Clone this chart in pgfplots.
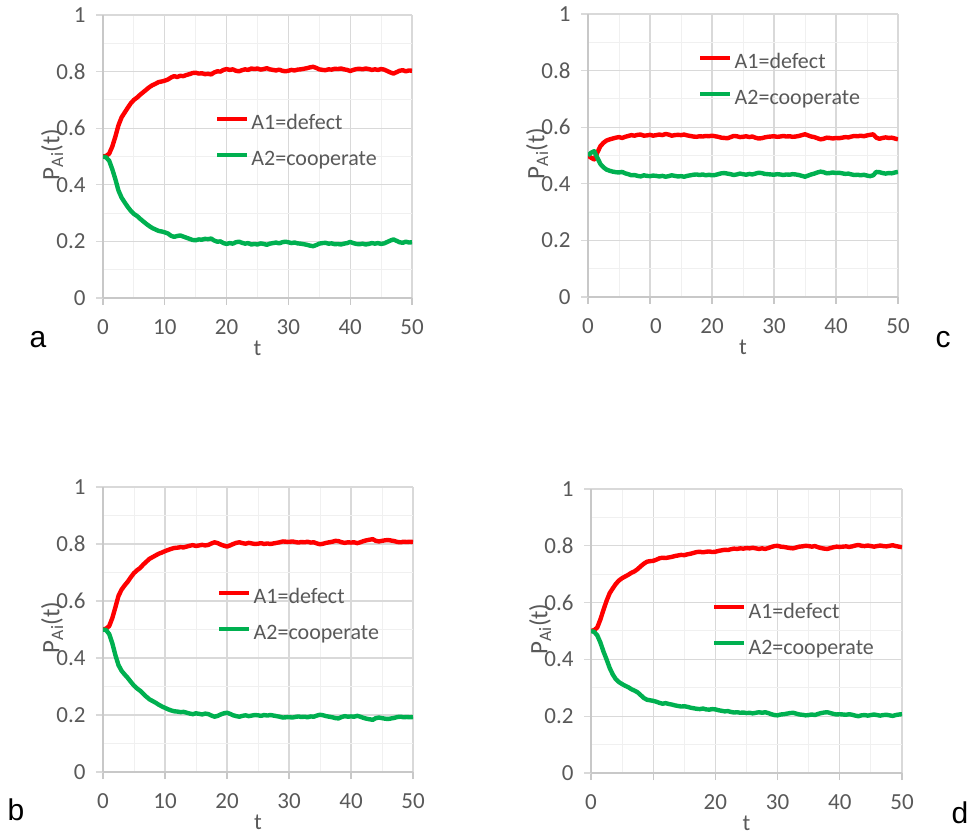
\documentclass[border=0pt]{standalone}
\usepackage{fontspec}
\setmainfont{Carlito}
\newfontfamily\arialf{Liberation Sans}
\usepackage{pgfplots}
\usepackage{pgfplotstable}
\pgfplotsset{compat=1.18}
\definecolor{tickgray}{HTML}{595959}
\definecolor{gridmaj}{HTML}{D9D9D9}
\definecolor{gridmin}{HTML}{F0F0F0}
\definecolor{axgray}{HTML}{C8C8C8}
\definecolor{pred}{HTML}{FF0000}
\definecolor{pgreen}{HTML}{00B050}

\pgfplotstableread{
t r g
0 0.500 0.500
0.5 0.502 0.497
1 0.510 0.485
1.5 0.535 0.455
2 0.570 0.420
2.5 0.610 0.380
3 0.638 0.355
3.5 0.655 0.338
4 0.672 0.322
4.5 0.688 0.308
5 0.700 0.297
5.5 0.708 0.290
6 0.718 0.280
6.5 0.727 0.271
7 0.736 0.262
7.5 0.745 0.254
8 0.752 0.247
8.5 0.757 0.242
9 0.763 0.237
9.5 0.765 0.235
10 0.768 0.232
10.5 0.772 0.228
11 0.779 0.220
11.5 0.784 0.216
12 0.781 0.219
12.5 0.785 0.221
13 0.784 0.217
13.5 0.788 0.213
14 0.791 0.209
14.5 0.795 0.205
15 0.796 0.204
15.5 0.793 0.207
16 0.794 0.206
16.5 0.791 0.209
17 0.792 0.208
17.5 0.790 0.210
18 0.797 0.203
18.5 0.801 0.199
19 0.800 0.200
19.5 0.806 0.194
20 0.809 0.191
20.5 0.806 0.194
21 0.808 0.192
21.5 0.803 0.197
22 0.801 0.199
22.5 0.805 0.195
23 0.808 0.192
23.5 0.806 0.194
24 0.811 0.189
24.5 0.809 0.191
25 0.811 0.189
25.5 0.807 0.193
26 0.809 0.191
26.5 0.812 0.188
27 0.808 0.192
27.5 0.806 0.194
28 0.804 0.196
28.5 0.807 0.193
29 0.803 0.197
29.5 0.801 0.199
30 0.803 0.197
30.5 0.806 0.194
31 0.804 0.196
31.5 0.807 0.193
32 0.808 0.192
32.5 0.810 0.190
33 0.812 0.188
33.5 0.815 0.185
34 0.817 0.183
34.5 0.813 0.187
35 0.808 0.192
35.5 0.806 0.194
36 0.805 0.195
36.5 0.808 0.192
37 0.807 0.193
37.5 0.810 0.190
38 0.809 0.191
38.5 0.811 0.189
39 0.808 0.192
39.5 0.806 0.194
40 0.802 0.198
40.5 0.806 0.194
41 0.809 0.191
41.5 0.810 0.190
42 0.808 0.192
42.5 0.811 0.189
43 0.809 0.191
43.5 0.806 0.194
44 0.808 0.192
44.5 0.806 0.194
45 0.809 0.191
45.5 0.807 0.193
46 0.802 0.198
46.5 0.797 0.203
47 0.793 0.207
47.5 0.798 0.202
48 0.803 0.197
48.5 0.805 0.195
49 0.801 0.199
49.5 0.804 0.196
50 0.803 0.197
}\dataA

\pgfplotstableread{
t r g
0 0.500 0.500
0.5 0.503 0.498
1 0.512 0.484
1.5 0.540 0.452
2 0.578 0.410
2.5 0.618 0.375
3 0.640 0.355
3.5 0.655 0.342
4 0.668 0.330
4.5 0.684 0.316
5 0.698 0.303
5.5 0.708 0.293
6 0.716 0.285
6.5 0.728 0.274
7 0.738 0.264
7.5 0.748 0.255
8 0.754 0.249
8.5 0.760 0.243
9 0.766 0.236
9.5 0.770 0.230
10 0.775 0.225
10.5 0.779 0.220
11 0.783 0.216
11.5 0.786 0.213
12 0.787 0.212
12.5 0.789 0.210
13 0.788 0.211
13.5 0.791 0.208
14 0.794 0.205
14.5 0.796 0.203
15 0.793 0.206
15.5 0.795 0.204
16 0.797 0.202
16.5 0.795 0.205
17 0.797 0.203
17.5 0.802 0.198
18 0.806 0.194
18.5 0.803 0.197
19 0.798 0.202
19.5 0.794 0.206
20 0.791 0.208
20.5 0.795 0.204
21 0.800 0.199
21.5 0.804 0.196
22 0.806 0.194
22.5 0.803 0.197
23 0.801 0.199
23.5 0.804 0.196
24 0.802 0.198
24.5 0.800 0.200
25 0.801 0.199
25.5 0.803 0.197
26 0.800 0.200
26.5 0.802 0.198
27 0.800 0.200
27.5 0.802 0.198
28 0.804 0.196
28.5 0.806 0.194
29 0.809 0.191
29.5 0.808 0.192
30 0.807 0.193
30.5 0.809 0.191
31 0.807 0.193
31.5 0.805 0.195
32 0.807 0.193
32.5 0.806 0.194
33 0.808 0.192
33.5 0.805 0.195
34 0.806 0.194
34.5 0.802 0.198
35 0.799 0.201
35.5 0.801 0.199
36 0.804 0.196
36.5 0.806 0.194
37 0.808 0.192
37.5 0.811 0.189
38 0.810 0.188
38.5 0.806 0.193
39 0.804 0.196
39.5 0.806 0.194
40 0.805 0.195
40.5 0.806 0.194
41 0.803 0.197
41.5 0.806 0.194
42 0.810 0.190
42.5 0.813 0.187
43 0.815 0.185
43.5 0.817 0.183
44 0.811 0.189
44.5 0.809 0.191
45 0.811 0.189
45.5 0.813 0.187
46 0.814 0.186
46.5 0.812 0.188
47 0.810 0.190
47.5 0.807 0.193
48 0.806 0.194
48.5 0.808 0.192
49 0.807 0.193
49.5 0.808 0.192
50 0.807 0.193
}\dataB

\pgfplotstableread{
t r g
0 0.500 0.500
0.5 0.492 0.510
1 0.486 0.515
1.5 0.510 0.492
2 0.533 0.470
2.5 0.545 0.458
3 0.553 0.450
3.5 0.557 0.446
4 0.560 0.443
4.5 0.563 0.441
5 0.565 0.440
5.5 0.562 0.442
6 0.566 0.437
6.5 0.569 0.434
7 0.572 0.430
7.5 0.570 0.431
8 0.573 0.428
8.5 0.574 0.426
9 0.570 0.430
9.5 0.571 0.428
10 0.573 0.427
10.5 0.570 0.429
11 0.572 0.428
11.5 0.574 0.426
12 0.572 0.428
12.5 0.576 0.425
13 0.574 0.427
13.5 0.570 0.430
14 0.572 0.428
14.5 0.573 0.426
15 0.572 0.427
15.5 0.574 0.425
16 0.571 0.428
16.5 0.569 0.430
17 0.567 0.432
17.5 0.566 0.433
18 0.568 0.431
18.5 0.567 0.433
19 0.569 0.430
19.5 0.568 0.432
20 0.570 0.430
20.5 0.568 0.431
21 0.566 0.434
21.5 0.563 0.437
22 0.562 0.438
22.5 0.561 0.436
23 0.565 0.434
23.5 0.569 0.431
24 0.568 0.433
24.5 0.565 0.436
25 0.566 0.434
25.5 0.568 0.432
26 0.565 0.435
26.5 0.567 0.433
27 0.563 0.436
27.5 0.560 0.439
28 0.561 0.438
28.5 0.564 0.435
29 0.566 0.434
29.5 0.567 0.433
30 0.568 0.432
30.5 0.566 0.434
31 0.567 0.433
31.5 0.569 0.431
32 0.567 0.433
32.5 0.568 0.432
33 0.566 0.434
33.5 0.567 0.433
34 0.569 0.431
34.5 0.572 0.428
35 0.575 0.425
35.5 0.571 0.429
36 0.567 0.433
36.5 0.565 0.436
37 0.561 0.440
37.5 0.557 0.443
38 0.559 0.441
38.5 0.563 0.437
39 0.562 0.438
39.5 0.560 0.440
40 0.562 0.438
40.5 0.561 0.439
41 0.563 0.437
41.5 0.565 0.435
42 0.564 0.436
42.5 0.567 0.433
43 0.569 0.431
43.5 0.568 0.432
44 0.570 0.430
44.5 0.568 0.432
45 0.571 0.429
45.5 0.573 0.427
46 0.575 0.430
46.5 0.563 0.442
47 0.559 0.441
47.5 0.562 0.438
48 0.564 0.436
48.5 0.562 0.438
49 0.563 0.437
49.5 0.560 0.440
50 0.557 0.442
}\dataC

\pgfplotstableread{
t r g
0 0.500 0.500
0.5 0.503 0.497
1 0.512 0.485
1.5 0.540 0.460
2 0.574 0.428
2.5 0.606 0.400
3 0.633 0.370
3.5 0.650 0.347
4 0.666 0.330
4.5 0.678 0.320
5 0.686 0.313
5.5 0.692 0.307
6 0.698 0.302
6.5 0.705 0.295
7 0.710 0.290
7.5 0.718 0.284
8 0.728 0.274
8.5 0.737 0.264
9 0.744 0.258
9.5 0.746 0.256
10 0.747 0.254
10.5 0.751 0.251
11 0.756 0.247
11.5 0.758 0.244
12 0.757 0.246
12.5 0.759 0.243
13 0.761 0.241
13.5 0.764 0.238
14 0.766 0.236
14.5 0.768 0.234
15 0.767 0.235
15.5 0.770 0.233
16 0.772 0.230
16.5 0.775 0.228
17 0.778 0.226
17.5 0.779 0.225
18 0.777 0.227
18.5 0.779 0.224
19 0.780 0.223
19.5 0.778 0.225
20 0.779 0.224
20.5 0.782 0.221
21 0.784 0.219
21.5 0.786 0.217
22 0.785 0.218
22.5 0.788 0.215
23 0.790 0.213
23.5 0.789 0.214
24 0.791 0.212
24.5 0.790 0.213
25 0.792 0.211
25.5 0.791 0.212
26 0.793 0.210
26.5 0.791 0.212
27 0.789 0.214
27.5 0.791 0.212
28 0.789 0.214
28.5 0.792 0.211
29 0.796 0.207
29.5 0.799 0.204
30 0.800 0.203
30.5 0.797 0.206
31 0.796 0.207
31.5 0.794 0.209
32 0.792 0.211
32.5 0.791 0.212
33 0.794 0.209
33.5 0.797 0.206
34 0.798 0.205
34.5 0.800 0.203
35 0.799 0.204
35.5 0.797 0.206
36 0.799 0.204
36.5 0.795 0.208
37 0.792 0.211
37.5 0.790 0.213
38 0.789 0.214
38.5 0.792 0.211
39 0.795 0.208
39.5 0.797 0.206
40 0.796 0.207
40.5 0.797 0.206
41 0.798 0.205
41.5 0.796 0.207
42 0.798 0.205
42.5 0.801 0.202
43 0.803 0.200
43.5 0.800 0.203
44 0.799 0.204
44.5 0.801 0.202
45 0.799 0.204
45.5 0.797 0.206
46 0.799 0.204
46.5 0.801 0.202
47 0.799 0.204
47.5 0.798 0.205
48 0.800 0.203
48.5 0.802 0.201
49 0.799 0.204
49.5 0.797 0.206
50 0.795 0.207
}\dataD

\pgfplotsset{
  panel/.style={
    scale only axis,
    xmin=0, xmax=50, ymin=0, ymax=1,
    xtick={0,10,20,30,40,50},
    ytick={0,0.2,0.4,0.6,0.8,1},
    yticklabels={0,0.2,0.4,0.6,0.8,1},
    minor xtick={5,15,25,35,45},
    minor ytick={0.1,0.3,0.5,0.7,0.9},
    grid=both,
    major grid style={color=gridmaj, line width=1.3pt},
    minor grid style={color=gridmin, line width=1pt},
    axis x line*=bottom, axis y line*=left,
    axis line style={-, color=axgray, line width=1.6pt},
    tick align=outside,
    major tick length=7pt,
    minor tick length=0pt,
    xtick style={color=axgray, line width=1.3pt},
    ytick style={color=gridmaj, line width=1.3pt},
    tick label style={font=\fontsize{23}{23}\selectfont, text=tickgray},
    xticklabel style={yshift=-11pt},
    yticklabel style={xshift=-7pt},
    xlabel={t},
    ylabel={P\textsubscript{Ai}(t)},
    every axis x label/.style={font=\fontsize{23}{23}\selectfont, text=tickgray, at={(axis description cs:0.5,0)}, anchor=center, yshift=-50pt},
    every axis y label/.style={font=\fontsize{25}{25}\selectfont, text=tickgray, at={(axis description cs:0,0.5)}, anchor=center, xshift=-51pt, yshift=2pt, rotate=90},
    legend style={draw=none, fill=none, anchor=west, inner sep=0pt,
      font=\fontsize{22}{22}\selectfont, text=tickgray,
      row sep=15pt, column sep=2pt,
      nodes={inner sep=0pt, text height=16pt, text depth=5pt}},
    legend cell align=left,
    legend image code/.code={\draw[#1] (0pt,5.5pt) -- (30pt,5.5pt);},
    every axis plot/.append style={line width=4.4pt, line join=round},
  }
}

\begin{document}
\begin{tikzpicture}
\useasboundingbox (0pt,0pt) rectangle (967pt,833pt);

% panel a
\begin{axis}[panel, at={(103pt,535pt)}, anchor=south west, width=309pt, height=283pt,
  xticklabels={0,10,20,30,40,50},
  legend style={at={(0.362,0.550)}}]
\addplot[pred] table[x=t,y=r]{\dataA};
\addlegendentry{A1=defect}
\addplot[pgreen] table[x=t,y=g]{\dataA};
\addlegendentry{A2=cooperate}
\end{axis}

% panel c
\begin{axis}[panel, at={(588pt,536pt)}, anchor=south west, width=310pt, height=283pt,
  xticklabels={0,\phantom{1}0,20,30,40,50},
  legend style={at={(0.355,0.762)}}]
\addplot[pred] table[x=t,y=r]{\dataC};
\addlegendentry{A1=defect}
\addplot[pgreen] table[x=t,y=g]{\dataC};
\addlegendentry{A2=cooperate}
\end{axis}

% panel b
\begin{axis}[panel, at={(103pt,61pt)}, anchor=south west, width=310pt, height=285pt,
  xticklabels={0,10,20,30,40,50},
  legend style={at={(0.368,0.546)}}]
\addplot[pred] table[x=t,y=r]{\dataB};
\addlegendentry{A1=defect}
\addplot[pgreen] table[x=t,y=g]{\dataB};
\addlegendentry{A2=cooperate}
\end{axis}

% panel d
\begin{axis}[panel, at={(591pt,60pt)}, anchor=south west, width=311pt, height=284pt,
  xticklabels={0,,20,30,40,50},
  legend style={at={(0.389,0.501)}}]
\addplot[pred] table[x=t,y=r]{\dataD};
\addlegendentry{A1=defect}
\addplot[pgreen] table[x=t,y=g]{\dataD};
\addlegendentry{A2=cooperate}
\end{axis}

\node[font=\arialf\fontsize{30}{30}\selectfont] at (38pt,493pt) {a};
\node[font=\arialf\fontsize{30}{30}\selectfont] at (943pt,493pt) {c};
\node[font=\arialf\fontsize{30}{30}\selectfont] at (16pt,23pt) {b};
\node[font=\arialf\fontsize{30}{30}\selectfont] at (960pt,20pt) {d};
\end{tikzpicture}
\end{document}
